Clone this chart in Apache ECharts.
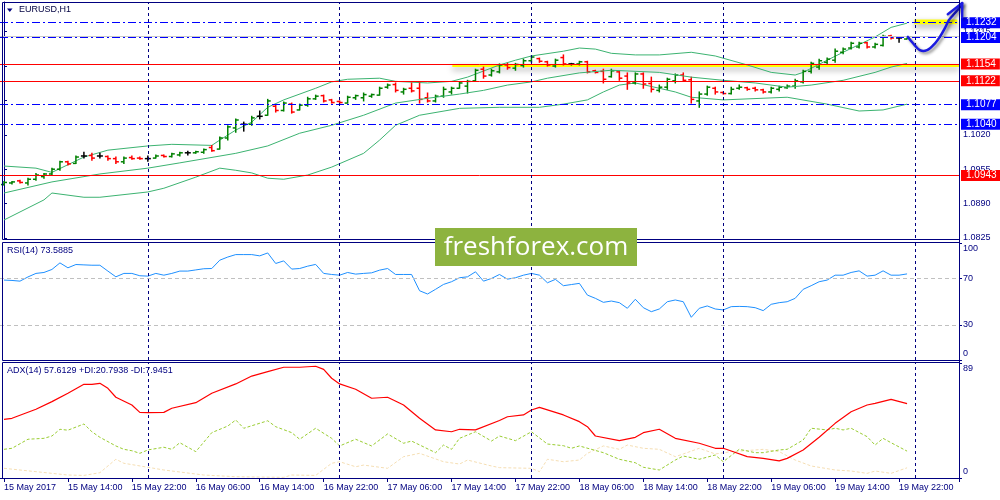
<!DOCTYPE html>
<html><head><meta charset="utf-8">
<script src="https://cdn.jsdelivr.net/npm/echarts@6/dist/echarts.min.js"></script>
<style>html,body{margin:0;padding:0;background:#fff}#c{width:1000px;height:500px}</style>
</head><body><div id="c"></div>
<script>
// ---------- DATA ----------
// hourly bars from 15 May 2017 06:00; 6 empty slots after the last bar (chart shift)
const categories = [];
for (let k = 0; k < 120; k++) {
  const h = 6 + k, day = 15 + Math.floor(h / 24), hr = h % 24;
  categories.push(day + ' May ' + String(hr).padStart(2, '0') + ':00');
}
const tickLabels = ['15 May 2017','15 May 14:00','15 May 22:00','16 May 06:00','16 May 14:00','16 May 22:00',
  '17 May 06:00','17 May 14:00','17 May 22:00','18 May 06:00','18 May 14:00','18 May 22:00',
  '19 May 06:00','19 May 14:00','19 May 22:00'];
const daySeparators = ['16 May 00:00','17 May 00:00','18 May 00:00','19 May 00:00','20 May 00:00'];

// [open, high, low, close]
const bars = [
[1.0926,1.0932,1.0925,1.0930],[1.0929,1.0932,1.0927,1.0931],[1.0933,1.0934,1.0929,1.0930],[1.0929,1.0938,1.0925,1.0936],
[1.0936,1.0947,1.0934,1.0944],[1.0941,1.0947,1.0938,1.0946],[1.0946,1.0957,1.0944,1.0955],[1.0955,1.0970,1.0953,1.0969],
[1.0969,1.0970,1.0963,1.0965],[1.0966,1.0980,1.0966,1.0978],[1.0980,1.0987,1.0976,1.0980],[1.0981,1.0985,1.0972,1.0976],
[1.0980,1.0985,1.0976,1.0980],[1.0979,1.0980,1.0972,1.0975],[1.0975,1.0978,1.0966,1.0969],[1.0969,1.0978,1.0966,1.0976],
[1.0977,1.0980,1.0974,1.0975],[1.0976,1.0978,1.0974,1.0975],[1.0975,1.0980,1.0970,1.0975],[1.0976,1.0982,1.0976,1.0980],
[1.0981,1.0982,1.0978,1.0979],[1.0979,1.0985,1.0978,1.0984],[1.0982,1.0987,1.0980,1.0986],[1.0986,1.0989,1.0982,1.0986],
[1.0986,1.0989,1.0985,1.0988],[1.0987,1.0993,1.0985,1.0992],[1.0996,1.1000,1.0989,1.0990],[1.0993,1.1016,1.0993,1.1014],
[1.1014,1.1037,1.1010,1.1035],[1.1033,1.1050,1.1025,1.1048],[1.1040,1.1044,1.1027,1.1040],[1.1040,1.1055,1.1038,1.1052],
[1.1055,1.1065,1.1050,1.1055],[1.1057,1.1087,1.1057,1.1084],[1.1074,1.1076,1.1063,1.1066],[1.1066,1.1082,1.1065,1.1080],
[1.1078,1.1080,1.1061,1.1063],[1.1067,1.1078,1.1067,1.1076],[1.1076,1.1091,1.1074,1.1088],[1.1088,1.1095,1.1087,1.1093],
[1.1094,1.1095,1.1082,1.1084],[1.1086,1.1087,1.1080,1.1081],[1.1083,1.1084,1.1080,1.1081],[1.1080,1.1093,1.1080,1.1091],
[1.1090,1.1095,1.1087,1.1094],[1.1090,1.1099,1.1084,1.1096],[1.1093,1.1097,1.1091,1.1096],[1.1095,1.1110,1.1095,1.1108],
[1.1110,1.1116,1.1108,1.1114],[1.1115,1.1118,1.1101,1.1104],[1.1101,1.1108,1.1097,1.1106],[1.1108,1.1118,1.1101,1.1103],
[1.1108,1.1118,1.1080,1.1087],[1.1090,1.1099,1.1082,1.1084],[1.1084,1.1095,1.1082,1.1093],[1.1093,1.1110,1.1091,1.1106],
[1.1101,1.1110,1.1097,1.1108],[1.1108,1.1120,1.1108,1.1118],[1.1112,1.1123,1.1099,1.1121],[1.1122,1.1144,1.1121,1.1142],
[1.1144,1.1148,1.1127,1.1131],[1.1133,1.1144,1.1131,1.1141],[1.1139,1.1154,1.1137,1.1152],[1.1152,1.1155,1.1144,1.1147],
[1.1146,1.1155,1.1142,1.1153],[1.1151,1.1163,1.1148,1.1160],[1.1160,1.1169,1.1157,1.1167],[1.1164,1.1165,1.1157,1.1159],
[1.1158,1.1159,1.1150,1.1152],[1.1150,1.1163,1.1148,1.1161],[1.1166,1.1171,1.1152,1.1154],[1.1154,1.1155,1.1152,1.1154],
[1.1154,1.1159,1.1152,1.1158],[1.1158,1.1159,1.1137,1.1139],[1.1141,1.1142,1.1137,1.1138],[1.1140,1.1144,1.1118,1.1125],
[1.1130,1.1144,1.1129,1.1141],[1.1139,1.1140,1.1123,1.1127],[1.1131,1.1137,1.1106,1.1118],[1.1118,1.1137,1.1116,1.1135],
[1.1135,1.1137,1.1108,1.1116],[1.1117,1.1129,1.1101,1.1106],[1.1104,1.1114,1.1101,1.1110],[1.1110,1.1127,1.1106,1.1125],
[1.1122,1.1135,1.1118,1.1133],[1.1133,1.1137,1.1121,1.1123],[1.1124,1.1129,1.1080,1.1087],[1.1084,1.1101,1.1072,1.1097],
[1.1097,1.1112,1.1095,1.1110],[1.1108,1.1110,1.1097,1.1101],[1.1100,1.1101,1.1097,1.1098],[1.1098,1.1110,1.1097,1.1106],
[1.1108,1.1114,1.1106,1.1110],[1.1109,1.1110,1.1104,1.1106],[1.1108,1.1110,1.1103,1.1105],[1.1105,1.1106,1.1099,1.1101],
[1.1101,1.1110,1.1099,1.1108],[1.1106,1.1112,1.1103,1.1110],[1.1109,1.1114,1.1108,1.1112],[1.1112,1.1125,1.1108,1.1122],
[1.1120,1.1142,1.1118,1.1140],[1.1140,1.1157,1.1137,1.1155],[1.1148,1.1163,1.1144,1.1160],[1.1157,1.1165,1.1155,1.1163],
[1.1161,1.1182,1.1157,1.1178],[1.1176,1.1184,1.1173,1.1182],[1.1184,1.1195,1.1182,1.1193],[1.1186,1.1195,1.1184,1.1193],
[1.1194,1.1195,1.1184,1.1186],[1.1186,1.1193,1.1184,1.1191],[1.1189,1.1208,1.1188,1.1206],[1.1207,1.1208,1.1201,1.1203],
[1.1203,1.1205,1.1195,1.1203],[1.1201,1.1203,1.1201,1.1203]
];

// Bollinger bands, read as [bar index, price]
const bbUpper = [[0,1.0961],[4,1.0957],[6,1.0949],[10,1.0978],[13,1.0991],[18,1.0999],[21,1.1002],[26,1.1000],[27,1.1010],[29,1.1029],[31,1.1044],[33,1.1072],[35,1.1086],[39,1.1108],[41,1.1120],[43,1.1125],[47,1.1127],[49,1.1121],[53,1.1118],[56,1.1121],[58,1.1129],[62,1.1152],[64,1.1161],[66,1.1169],[70,1.1178],[72,1.1184],[74,1.1182],[76,1.1174],[79,1.1171],[82,1.1171],[86,1.1176],[89,1.1169],[93,1.1152],[96,1.1138],[99,1.1133],[100,1.1138],[103,1.1161],[105,1.1176],[109,1.1205],[111,1.1223],[113,1.1231]];
const bbMiddle = [[0,1.0910],[6,1.0931],[12,1.0946],[18,1.0957],[22,1.0967],[29,1.0985],[33,1.0999],[37,1.1023],[41,1.1038],[45,1.1057],[49,1.1080],[53,1.1089],[57,1.1097],[60,1.1104],[63,1.1114],[66,1.1120],[68,1.1127],[72,1.1137],[76,1.1142],[82,1.1138],[86,1.1129],[90,1.1123],[94,1.1118],[98,1.1110],[101,1.1114],[105,1.1123],[109,1.1138],[111,1.1148],[113,1.1155]];
const bbLower = [[0,1.0859],[5,1.0897],[6,1.0910],[10,1.0902],[12,1.0902],[18,1.0912],[20,1.0919],[24,1.0940],[27,1.0957],[29,1.0953],[31,1.0948],[33,1.0938],[35,1.0936],[38,1.0944],[41,1.0959],[45,1.0985],[47,1.1010],[49,1.1038],[52,1.1057],[57,1.1070],[62,1.1072],[67,1.1072],[70,1.1078],[73,1.1086],[75,1.1101],[77,1.1114],[79,1.1118],[82,1.1108],[84,1.1101],[86,1.1091],[90,1.1086],[98,1.1091],[103,1.1078],[107,1.1065],[110,1.1067],[113,1.1078]];

// horizontal levels
const blueLevels = [1.1232, 1.1204, 1.1077, 1.1040];
const redLevels = [1.1154, 1.1122, 1.0943];
const priceLine = [1.12055];
const priceTickLabels = ['1.0825','1.0890','1.0955','1.1020','1.1215'];
// yellow highlights [fromIndex, toIndex, topPrice, bottomPrice]
const yellowZones = [[56.1, 119.5, 1.1154, 1.1148], [113.9, 119.3, 1.12377, 1.12290]];
// hand-drawn arrow, [bar index, price]
const arrowPath = [[113.1,1.1205],[113.75,1.1193],[114.6,1.1180],[115.5,1.1180],[116.5,1.1193],[117.1,1.1205],[117.75,1.1222],[118.25,1.1237],[118.75,1.1246],[119.6,1.1261],[119.9,1.1269]];
const arrowHead = [[118.1,1.1248],[119.9,1.1269],[119.9,1.1242]];

// RSI(14), one value per bar
const rsi = [68.3,68.0,67.4,71.0,74.0,74.8,77.4,83.0,78.8,81.6,
81.3,81.0,81.0,76.0,71.1,74.0,74.0,72.0,71.7,74.0,
72.5,74.0,76.0,76.0,77.0,78.0,78.2,85.3,88.0,90.1,
90.1,90.1,89.0,91.5,82.5,84.7,77.7,78.2,80.2,81.7,
74.0,73.1,72.5,74.8,73.4,74.0,74.5,76.8,78.2,73.1,
73.1,73.1,59.2,56.4,60.4,64.6,66.9,70.3,71.1,75.4,
67.4,69.7,73.1,69.1,70.3,72.5,74.0,72.5,66.0,68.9,
63.5,64.5,65.5,55.5,52.7,49.3,50.4,49.0,44.2,51.9,
44.7,41.3,43.6,49.8,51.3,49.8,36.5,44.2,46.2,43.6,
42.8,45.6,45.8,45.6,44.7,42.2,47.6,49.0,49.8,52.7,
60.4,63.5,66.9,68.3,72.5,72.5,74.8,76.2,71.7,72.5,
76.2,72.5,72.5,73.59];
const rsiLevels = [70, 30];
const rsiTicks = [0, 30, 70, 100];

// ADX(14), +DI, -DI read as [bar index, value]
const adx = [[0,45.4],[1,46.2],[4,53.2],[6,59.1],[8,65.6],[10,72.5],[11,72.5],[12,73.3],[13,69.4],[14,62.5],[16,56.5],[17,50.8],[18,50.6],[20,50.8],[21,54],[24,58.3],[26,65.6],[29,72.8],[31,78.9],[33,82.3],[35,85.7],[37,85.7],[39,86.5],[40,84.1],[41,77.2],[42,72.8],[44,68.7],[46,61.7],[48,62.5],[50,56.5],[52,46.2],[54,37.2],[56,35.8],[57,37.7],[59,37.2],[62,44.5],[63,47.4],[65,48.8],[66,52.6],[67,54.7],[70,48.8],[72,43.6],[73,39.7],[74,32.5],[77,28.9],[79,31.5],[80,35.1],[82,37.7],[84,30.7],[87,26.9],[89,23],[90,23],[91,20.9],[93,16.5],[95,15.2],[97,13.2],[98,15.2],[100,21.7],[102,31.5],[104,42.3],[106,51.3],[108,56.5],[109,57.8],[111,60.9],[113,57.6]];
const plusDI = [[0,22.2],[1,23],[3,30],[5,30.7],[6,32.5],[7,37.7],[8,37],[10,41.8],[11,35.8],[12,31.5],[14,24.8],[15,22.2],[16,21.1],[17,19.1],[18,21.7],[20,23.8],[21,22.2],[22,27.3],[24,20.4],[26,35.1],[28,40.2],[29,44.9],[30,38.5],[33,44.3],[34,39.7],[36,35.1],[37,30],[39,38.5],[41,30.7],[42,24.8],[44,30],[46,24.8],[48,34.1],[50,26.9],[51,28.6],[54,19.6],[55,25.5],[56,22.2],[57,30.7],[59,35.8],[61,28.6],[62,32.5],[64,28.9],[66,35.8],[68,26.3],[70,25],[71,23],[72,24.8],[75,19.6],[77,14.5],[79,11.8],[80,8.3],[82,6.2],[84,13.9],[85,17],[87,14.5],[89,17.8],[90,12.6],[92,22.2],[94,19.6],[95,19.6],[97,21.7],[98,22.2],[100,29.4],[101,38.5],[103,37.2],[104,38.5],[105,37.2],[106,38.5],[108,32],[109,25.5],[110,30.7],[111,27.3],[113,20.8]];
const minusDI = [[0,7.5],[4,4.9],[8,2.3],[10,2],[12,4.1],[14,14.5],[15,11.4],[18,8.3],[20,6.2],[25,2.3],[29,1],[35,0.5],[36,2.3],[39,2],[41,11.4],[42,12.6],[44,8.7],[45,10],[48,7.5],[50,16.5],[52,19.1],[55,12.6],[57,10.8],[58,13.9],[61,9.3],[62,8],[66,7.5],[67,4.9],[68,14.5],[70,12.6],[72,13.9],[73,19.1],[75,24.8],[77,22.2],[78,25.5],[80,23],[82,22.2],[84,16.5],[85,18.6],[87,23],[89,18.6],[91,20.4],[94,21.7],[95,22.2],[97,20.4],[99,13.9],[101,9.3],[104,6.2],[106,5.4],[108,3.6],[109,5.4],[111,3.6],[113,7.9]];

// ---------- CHART ----------
const navy = '#000080';
const FONT = '"Liberation Sans", Arial, sans-serif';
const chart = echarts.init(document.getElementById('c'), null, {renderer: 'canvas'});

function xCat(gi, show) {
  const every8 = (i) => i % 8 === 0;
  return {
    type: 'category', gridIndex: gi, data: categories, boundaryGap: true, show: true,
    axisLine: {show: show, lineStyle: {color: navy, width: 1}},
    axisTick: {show: show, alignWithLabel: true, interval: every8, length: 4, lineStyle: {color: navy}},
    axisLabel: {show: show, interval: every8, align: 'left', color: navy, fontSize: 9, fontFamily: FONT, margin: 5,
      formatter: (v, i) => tickLabels[i / 8] || ''},
    splitLine: {show: false}
  };
}
function yRight(gi, min, max, interval, fmt, rich, custom) {
  const ax = {
    type: 'value', gridIndex: gi, position: 'right', min: min, max: max, interval: interval,
    axisLine: {show: true, lineStyle: {color: navy}},
    axisTick: {show: true, length: 3, lineStyle: {color: navy}},
    axisLabel: {color: navy, fontSize: 9, fontFamily: FONT, margin: 4, formatter: fmt, rich: rich || {}},
    splitLine: {show: false}
  };
  if (custom) { ax.axisTick.customValues = custom; ax.axisLabel.customValues = custom; }
  return ax;
}
const shiftRich = {
  t: {padding: [12, 0, 0, 0], color: navy, fontSize: 9, fontFamily: FONT},
  b: {padding: [0, 0, 12, 0], color: navy, fontSize: 9, fontFamily: FONT}
};

const sepLines = daySeparators.map(d => ({xAxis: d, lineStyle: {color: navy, type: [3, 3], width: 1}, label: {show: false}}));
function levelItem(v, color, dash) {
  return {yAxis: v, lineStyle: {color: color, type: dash, width: 1},
    label: {show: true, position: 'end', distance: 2, formatter: v.toFixed(4), color: '#ffffff',
      backgroundColor: color, padding: [1, 4, 0, 5], fontSize: 10, lineHeight: 10, fontFamily: FONT}};
}
const levelMarks = [].concat(
  priceLine.map(v => ({yAxis: v, lineStyle: {color: '#c8c8c8', type: 'solid', width: 1}, label: {show: false}})),
  blueLevels.map(v => levelItem(v, '#0000ff', [8, 3, 2, 3])),
  redLevels.map(v => levelItem(v, '#ff0000', 'solid'))
);

const option = {
  animation: false,
  backgroundColor: '#ffffff',
  grid: [
    {left: -1, right: 41, top: 2, height: 236},
    {left: -1, right: 41, top: 243, height: 117},
    {left: -1, right: 41, top: 363, height: 115}
  ],
  xAxis: [xCat(0, false), xCat(1, false), xCat(2, true),
    {type: 'value', gridIndex: 0, min: -0.5, max: 119.5, show: false}],
  yAxis: [
    yRight(0, 1.0825, 1.1271, 0.0065, v => { const s = v.toFixed(4); return priceTickLabels.indexOf(s) >= 0 ? s : ''; }),
    yRight(1, 0, 100, 10, v => v === 100 ? '{t|100}' : v === 0 ? '{b|0}' : (rsiTicks.indexOf(v) >= 0 ? String(v) : ''), shiftRich, rsiTicks),
    yRight(2, 0, 89, 89, v => v === 89 ? '{t|89}' : v === 0 ? '{b|0}' : '', shiftRich)
  ],
  series: [
    { // yellow highlight zones
      type: 'line', xAxisIndex: 3, yAxisIndex: 0, data: [], z: 1, silent: true,
      markArea: {silent: true, precision: 6,
        itemStyle: {color: '#ffff00', shadowBlur: 6, shadowColor: 'rgba(0,0,0,0.35)', shadowOffsetY: 3},
        data: yellowZones.map(z => [{coord: [z[0], z[2]]}, {coord: [z[1], z[3]]}])}
    },
    {type: 'line', xAxisIndex: 0, yAxisIndex: 0, data: bbUpper, showSymbol: false, z: 2, silent: true, lineStyle: {color: '#3cb371', width: 1}},
    {type: 'line', xAxisIndex: 0, yAxisIndex: 0, data: bbMiddle, showSymbol: false, z: 4, silent: true, lineStyle: {color: '#3cb371', width: 1},
      markLine: {silent: true, precision: 6, symbol: ['none', 'none'], animation: false, data: levelMarks}},
    {type: 'line', xAxisIndex: 0, yAxisIndex: 0, data: bbLower, showSymbol: false, z: 2, silent: true, lineStyle: {color: '#3cb371', width: 1}},
    {
      type: 'custom', xAxisIndex: 0, yAxisIndex: 0, z: 3, clip: false, silent: true,
      data: bars.map((b, i) => [i, b[0], b[1], b[2], b[3]]),
      encode: {x: 0, y: [1, 2, 3, 4]},
      renderItem: (params, api) => {
        const i = api.value(0), o = api.value(1), h = api.value(2), l = api.value(3), c = api.value(4);
        const ph = api.coord([i, h]), pl = api.coord([i, l]), po = api.coord([i, o]), pc = api.coord([i, c]);
        const color = c > o ? '#008000' : (c < o ? '#ff0000' : '#000000');
        const x = ph[0];
        const st = {stroke: color, lineWidth: 1.5};
        return {type: 'group', children: [
          {type: 'line', shape: {x1: x, y1: ph[1] - 0.5, x2: x, y2: pl[1] + 0.5}, style: st},
          {type: 'line', shape: {x1: x - 3, y1: po[1], x2: x, y2: po[1]}, style: st},
          {type: 'line', shape: {x1: x, y1: pc[1], x2: x + 3, y2: pc[1]}, style: st}
        ]};
      },
      markLine: {silent: true, symbol: ['none', 'none'], animation: false, data: sepLines}
    },
    {
      type: 'custom', xAxisIndex: 3, yAxisIndex: 0, z: 6, clip: false, silent: true, data: [[0, 1.12]],
      renderItem: (params, api) => {
        const st = {stroke: '#1c1ce0', lineWidth: 2.5, fill: null, lineCap: 'round', lineJoin: 'round',
          shadowBlur: 3, shadowColor: 'rgba(0,0,0,0.45)', shadowOffsetX: 2, shadowOffsetY: 2};
        return {type: 'group', children: [
          {type: 'polyline', shape: {points: arrowPath.map(p => api.coord(p)), smooth: 0.35}, style: st},
          {type: 'polyline', shape: {points: arrowHead.map(p => api.coord(p))}, style: st}
        ]};
      }
    },
    {
      type: 'line', xAxisIndex: 1, yAxisIndex: 1, data: rsi, showSymbol: false, silent: true, z: 3,
      lineStyle: {color: '#1e90ff', width: 1},
      markLine: {silent: true, symbol: ['none', 'none'], animation: false,
        data: [].concat(sepLines, rsiLevels.map(v => ({yAxis: v, lineStyle: {color: '#c0c0c0', type: [4, 3], width: 1}, label: {show: false}})))}
    },
    {
      type: 'line', xAxisIndex: 2, yAxisIndex: 2, data: minusDI, showSymbol: false, silent: true, z: 2,
      lineStyle: {color: '#f5deb3', width: 1, type: [3, 2]}
    },
    {
      type: 'line', xAxisIndex: 2, yAxisIndex: 2, data: plusDI, showSymbol: false, silent: true, z: 2,
      lineStyle: {color: '#9acd32', width: 1, type: [3, 2]}
    },
    {
      type: 'line', xAxisIndex: 2, yAxisIndex: 2, data: adx, showSymbol: false, silent: true, z: 3,
      lineStyle: {color: '#ff0000', width: 1.2},
      markLine: {silent: true, symbol: ['none', 'none'], animation: false, data: sepLines}
    }
  ],
  graphic: {elements: [
    {type: 'rect', z: 50, silent: true, shape: {x: 2.5, y: 2.5, width: 957, height: 237}, style: {fill: null, stroke: navy, lineWidth: 1}},
    {type: 'rect', z: 50, silent: true, shape: {x: 2.5, y: 242.5, width: 957, height: 118}, style: {fill: null, stroke: navy, lineWidth: 1}},
    {type: 'rect', z: 50, silent: true, shape: {x: 2.5, y: 362.5, width: 957, height: 116}, style: {fill: null, stroke: navy, lineWidth: 1}},
    {type: 'line', z: 50, silent: true, shape: {x1: 959.5, y1: 0, x2: 959.5, y2: 482}, style: {stroke: navy, lineWidth: 1}},
    {type: 'polygon', z: 60, silent: true, shape: {points: [[7, 8.5], [12.5, 8.5], [9.75, 12]]}, style: {fill: navy}},
    {type: 'text', z: 60, silent: true, left: 19, top: 5, style: {text: 'EURUSD,H1', fill: '#000040', fontSize: 9, fontFamily: FONT}},
    {type: 'text', z: 60, silent: true, left: 7, top: 246, style: {text: 'RSI(14) 73.5885', fill: navy, fontSize: 9, fontFamily: FONT}},
    {type: 'text', z: 60, silent: true, left: 7, top: 366, style: {text: 'ADX(14) 57.6129 +DI:20.7938 -DI:7.9451', fill: navy, fontSize: 9, fontFamily: FONT}},
    {type: 'group', z: 100, silent: true, children: [
      {type: 'rect', z: 100, shape: {x: 435, y: 228, width: 202, height: 38}, style: {fill: '#8db33f'}},
      {type: 'text', z: 101, style: {text: 'freshforex.com', x: 536, y: 247.5, align: 'center', verticalAlign: 'middle',
        fill: '#ffffff', fontSize: 26, fontFamily: '"Open Sans", "Noto Sans", sans-serif'}}
    ]}
  ]}
};
chart.setOption(option);
</script>
</body></html>
